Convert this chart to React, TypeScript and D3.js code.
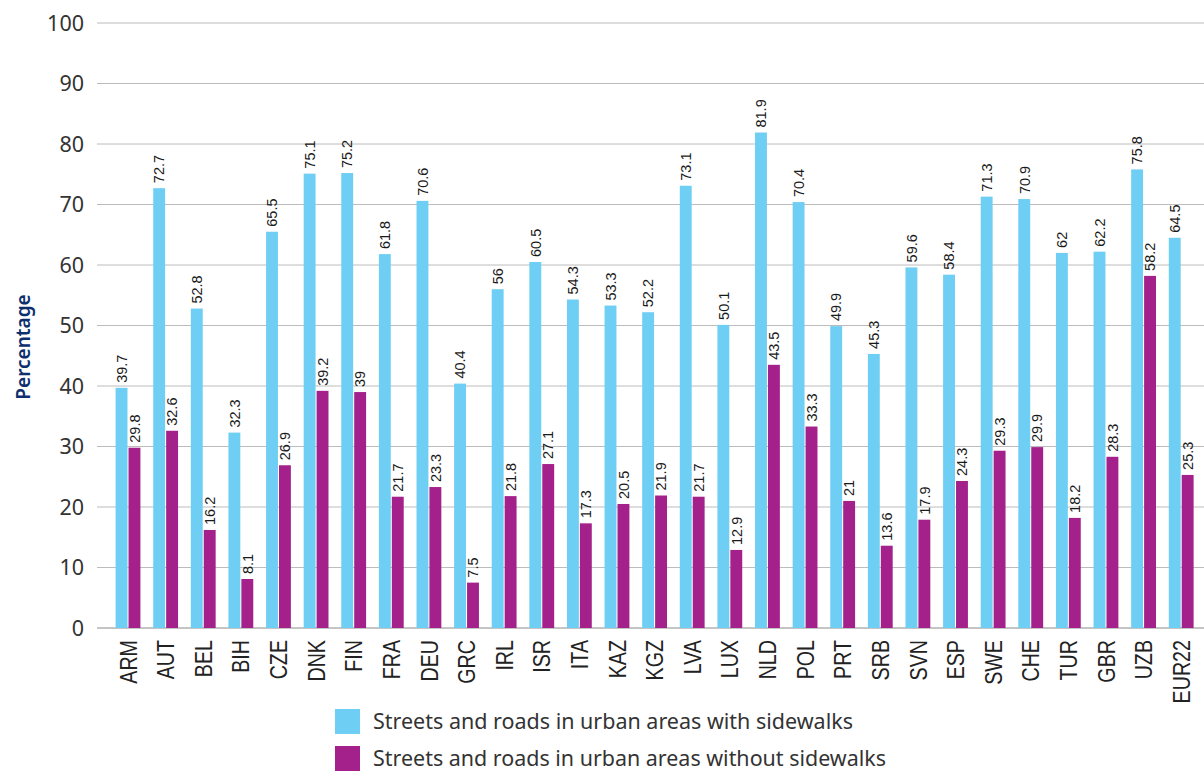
import React from "react";
import * as d3 from "d3";

const categories = ["ARM","AUT","BEL","BIH","CZE","DNK","FIN","FRA","DEU","GRC","IRL","ISR","ITA","KAZ","KGZ","LVA","LUX","NLD","POL","PRT","SRB","SVN","ESP","SWE","CHE","TUR","GBR","UZB","EUR22"];
const withSidewalks = [39.7,72.7,52.8,32.3,65.5,75.1,75.2,61.8,70.6,40.4,56,60.5,54.3,53.3,52.2,73.1,50.1,81.9,70.4,49.9,45.3,59.6,58.4,71.3,70.9,62,62.2,75.8,64.5];
const withoutSidewalks = [29.8,32.6,16.2,8.1,26.9,39.2,39,21.7,23.3,7.5,21.8,27.1,17.3,20.5,21.9,21.7,12.9,43.5,33.3,21,13.6,17.9,24.3,29.3,29.9,18.2,28.3,58.2,25.3];
const seriesNames = ["Streets and roads in urban areas with sidewalks","Streets and roads in urban areas without sidewalks"];
const yTicks = [0,10,20,30,40,50,60,70,80,90,100];

const W = 1204, H = 771;
const COLORS = ["#6FCEF4", "#A4218C"];
const LEGEND_LEN = [480, 513];

export default function App() {
  const x = d3.scaleBand<string>().domain(categories).range([109.2, 1200]).paddingInner(0.34).paddingOuter(0.17);
  const sub = d3.scaleBand<number>().domain([0, 1]).range([0, x.bandwidth()]).paddingInner(0.08);
  const y = d3.scaleLinear().domain([0, 100]).range([628, 23]);
  const series = [withSidewalks, withoutSidewalks];

  return (
    <svg width={W} height={H} style={{ position: "absolute", left: 0, top: 0, background: "#fff" }}>
      {yTicks.map(t => (
        <g key={t}>
          <line x1={97} x2={1204} y1={y(t)} y2={y(t)} stroke={t === 0 ? "#8a8a8a" : "#bcbcbc"} strokeWidth={1} />
          <text x={84} y={y(t)} dy="0.35em" textAnchor="end" fontFamily="'Noto Sans', sans-serif" fontSize={21.5} fill="#333">{t}</text>
        </g>
      ))}
      <text transform={`translate(30,347) rotate(-90)`} textAnchor="middle" fontFamily="'Noto Sans', sans-serif" fontWeight={600} fontSize={19} fill="#0D2F6E">Percentage</text>
      {categories.map((c, i) => (
        <g key={c}>
          {series.map((s, k) => {
            const bx = (x(c) as number) + (sub(k) as number);
            const bw = sub.bandwidth();
            const v = s[i];
            return (
              <g key={k}>
                <rect x={bx} y={y(v)} width={bw} height={y(0) - y(v)} fill={COLORS[k]} />
                <text transform={`translate(${bx + bw / 2},${y(v) - 5}) rotate(-90)`} dy="0.36em" textAnchor="start" fontFamily="'Liberation Sans', Arial, sans-serif" fontSize={14.5} fill="#1a1a1a">{String(v)}</text>
              </g>
            );
          })}
          <text transform={`translate(${(x(c) as number) + x.bandwidth() / 2},640) rotate(-90) scale(0.82,1)`} dy="0.36em" textAnchor="end" fontFamily="'Liberation Sans', Arial, sans-serif" fontSize={24} fill="#222">{c}</text>
        </g>
      ))}
      {seriesNames.map((n, k) => (
        <g key={n} transform={`translate(335,${709 + k * 37})`}>
          <rect x={0} y={0} width={25} height={25} fill={COLORS[k]} />
          <text x={38} y={12.5} dy="0.36em" textLength={LEGEND_LEN[k]} lengthAdjust="spacingAndGlyphs" fontFamily="'Noto Sans', sans-serif" fontSize={22} fill="#333">{n}</text>
        </g>
      ))}
    </svg>
  );
}
